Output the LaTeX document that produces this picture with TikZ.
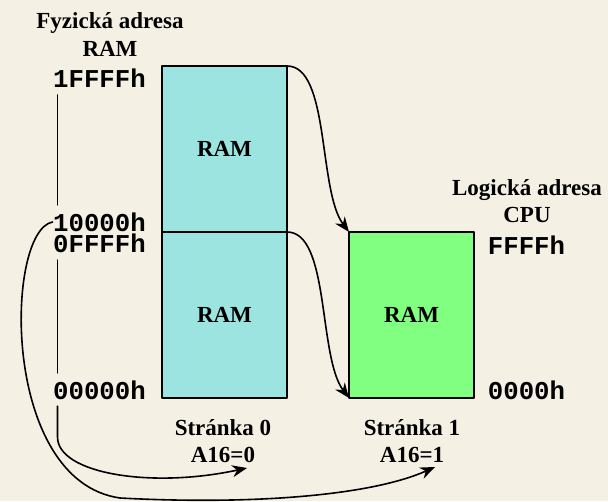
\documentclass[tikz,border=0pt]{standalone}
\usepackage{fontspec}
\setmainfont{Liberation Serif}
\newfontfamily\hexfont{Liberation Mono}
\usetikzlibrary{arrows.meta}
\definecolor{bgpaper}{RGB}{245,240,228}
\definecolor{ramcyan}{RGB}{156,228,224}
\definecolor{ramgreen}{RGB}{128,255,128}
\begin{document}
\begin{tikzpicture}[x=1pt, y=1pt, line join=round, line cap=round, >={Stealth[length=15pt,width=12pt]},
	lbl/.style={font=\fontsize{23}{27.5}\selectfont\bfseries, align=center, inner sep=1pt},
	hex/.style={font=\hexfont\fontsize{25.7}{26}\selectfont\bfseries, inner sep=0.5pt},
	rambox/.style={draw, line width=1.6pt, minimum width=125pt, minimum height=166pt, inner sep=0pt, outer sep=0pt, font=\fontsize{23}{27}\selectfont\bfseries},
	conn/.style={line width=1.6pt},
	tick/.style={line width=1.6pt, shorten <=7pt, shorten >=7pt}]
	\def\w{608}
	\def\h{501}
	\useasboundingbox (0,0) rectangle (\w,\h);
	\fill[bgpaper] (0,0) rectangle (\w,\h);
	\node[rambox, fill=ramcyan] (ramhi) at (224.5,352) {RAM};
	\node[rambox, fill=ramcyan] (ramlo) at (224.5,186) {RAM};
	\node[rambox, fill=ramgreen] (ramcpu) at (411.5,186) {RAM};
	\node[lbl] (fyz) at (110,466.5) {Fyzická adresa\\RAM};
	\node[lbl] (log) at (527,300) {Logická adresa\\CPU};
	\node[lbl] (pg0) at (223,60) {Stránka 0\\A16=0};
	\node[lbl] (pg1) at (412,60) {Stránka 1\\A16=1};
	\node[hex] (adr1f) at (99.5,423) {1FFFFh};
	\node[hex] (adr10) at (99.5,279) {10000h};
	\node[hex] (adr0f) at (99.5,258) {0FFFFh};
	\node[hex] (adr00) at (99.5,111) {00000h};
	\node[hex] (cpuff) at (526.5,256) {FFFFh};
	\node[hex] (cpu00) at (526.5,111) {0000h};
	\coordinate (tip0) at (247,33);
	\coordinate (tip1) at (435,34);
	\draw[tick] ([xshift=5pt]adr1f.south west) -- ([xshift=5pt]adr10.north west);
	\draw[tick] ([xshift=5pt]adr0f.south west) -- ([xshift=5pt]adr00.north west);
	\draw[conn,->] (ramhi.north east) .. controls +(43,0) and +(-31,41) .. (ramcpu.north west);
	\draw[conn,->] (ramlo.north east) .. controls +(43,0) and +(-31,41) .. (ramcpu.south west);
	\draw[conn,->] ([xshift=5pt,yshift=-6pt]adr00.south west) -- ++(0,-31) .. controls +(0,-36) and +(-97,-21) .. (tip0);
	\draw[conn,->] (adr10.west) .. controls (5,270) and (0,20) .. (120,3) .. controls (250,-4) and (370,5) .. (tip1);
\end{tikzpicture}
\end{document}
